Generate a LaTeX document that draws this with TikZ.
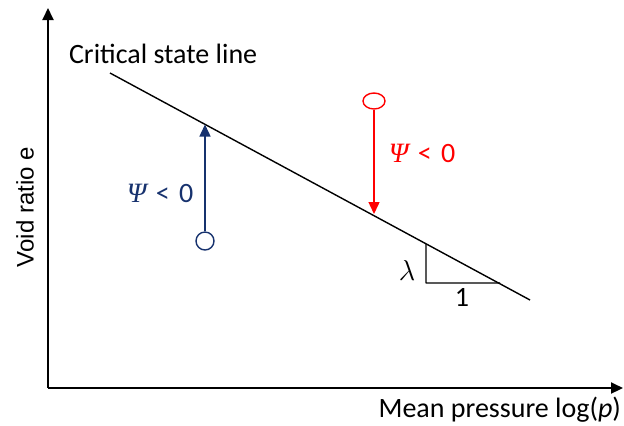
\documentclass[tikz,border=0pt]{standalone}
\usepackage{fontspec}
\setmainfont{Carlito}
\newfontfamily\greekfont{Liberation Serif}
\newfontfamily\arialfont{Liberation Sans}
\usetikzlibrary{arrows.meta,calc,shapes.geometric}
\definecolor{navy}{HTML}{17326E}
\definecolor{redline}{HTML}{FF0000}
\newcommand{\psisym}{{\greekfont\itshape Ψ}}
\tikzset{
  every picture/.style={line join=round, >={Triangle[length=6pt,width=5.5pt]}},
  axis/.style={line width=1pt, ->},
  csl/.style={line width=0.7pt},
  state/.style={line width=0.7pt, fill=white, inner sep=0pt},
  path arrow/.style={line width=0.7pt, ->},
  lbl/.style={font=\fontsize{14}{16}\selectfont},
}
\begin{document}
\begin{tikzpicture}[x=0.5pt,y=-0.5pt]
\useasboundingbox (0,0) rectangle (624,425);
% axes
\coordinate (O) at (48,388);
\draw[axis] (O) -- (48,8);
\draw[axis] (O) -- (623,388);
\node[font=\arialfont\fontsize{12}{14}\selectfont, rotate=90] (ylab) at (25,207) {Void ratio e};
\node[lbl, anchor=east] (xlab) at (628,410) {Mean pressure log(\textit{p})};
% critical state line
\coordinate (c1) at (110,73);
\coordinate (c2) at (530,300);
\draw[csl] (c1) -- (c2);
\node[lbl, anchor=west] (csllab) at (62,54) {Critical state line};
% slope triangle
\coordinate (t1) at ($(c1)!0.7524!(c2)$);
\coordinate (t2) at (426,283);
\coordinate (t3) at (500,283);
\draw[csl] (t1) -- (t2) -- (t3);
\node[lbl] (lam) at (407,270) {$\lambda$};
\node[lbl] (one) at (462,297) {1};
% loose state (blue)
\node[state, draw=navy, circle, minimum size=18pt*0.5] (loose) at (205,241) {};
\coordinate (lt) at (205,124.5);
\draw[path arrow, navy] (loose) -- (lt);
\node[lbl, navy] (psil) at (160,193) {\psisym\,\,<\,\,0};
% dense state (red)
\node[state, draw=redline, ellipse, minimum width=22pt*0.5, minimum height=16pt*0.5] (dense) at (374,101) {};
\coordinate (dt) at (374,214);
\draw[path arrow, redline] (dense) -- (dt);
\node[lbl, redline] (psid) at (422,153) {\psisym\,\,<\,\,0};
\end{tikzpicture}
\end{document}
